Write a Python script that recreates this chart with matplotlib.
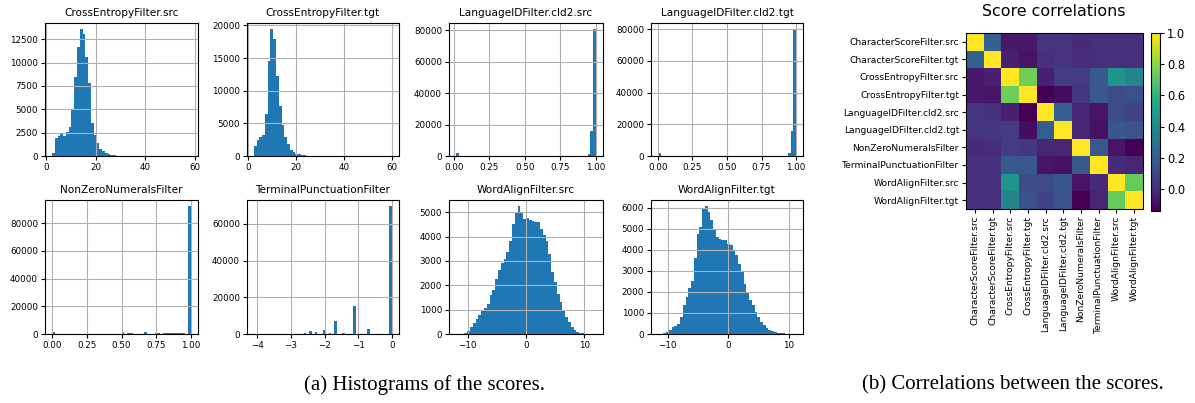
import numpy as np
import matplotlib
matplotlib.use("Agg")
import matplotlib.pyplot as plt

# ---- histogram data: (range low, range high, counts per bin) ----
ce_src_range = (2.3, 58.5)
ce_src_counts = [350, 1950, 2150, 2400, 2150, 2550, 3100, 5000, 8500, 11700,
                 13550, 13100, 10600, 7800, 3500, 2200, 1350, 800, 500, 300,
                 200, 130, 80, 50, 30, 20, 15, 10, 8, 6,
                 5, 4, 3, 2, 2, 1, 1, 1, 1, 1,
                 1, 0, 1, 0, 0, 1, 0, 0, 0, 1]

ce_tgt_range = (2.5, 60.0)
ce_tgt_counts = [1500, 2450, 2850, 3200, 6400, 14500, 19400, 17900, 12200, 7600,
                 4700, 2950, 1800, 950, 600, 300, 250, 150, 100, 60,
                 40, 25, 15, 10, 6, 4, 3, 2, 2, 1,
                 1, 1, 1, 0, 1, 0, 0, 1, 0, 0,
                 0, 1, 0, 0, 0, 0, 1, 0, 0, 1]

lid_src_range = (0.015, 1.0)
lid_src_counts = [1800] + [0] * 45 + [300, 1000, 16000, 80600]

lid_tgt_range = (0.0, 1.0)
lid_tgt_counts = [1800] + [0] * 45 + [200, 1700, 16000, 80000]

nzn_range = (0.0, 1.0)
nzn_counts = ([1400] + [0] * 24 + [1100, 0, 600, 600] + [0] * 4 + [1100]
              + [0] * 3 + [500, 500, 0] + [600] * 8 + [0, 92000])

tp_range = (-4.1, 0.0)
tp_counts = [0] * 50
for idx, val in [(0, 30), (18, 550), (20, 1450), (22, 1100), (25, 2400),
                 (27, 550), (29, 6900), (32, 550), (36, 15500), (41, 2500),
                 (49, 69600)]:
    tp_counts[idx] = val

wa_src_range = (-12.0, 12.0)
wa_src_counts = [2, 5, 10, 40, 110, 300, 440, 600, 780, 975,
                 1070, 1250, 1590, 1800, 2250, 2620, 2900, 3080, 3350, 3800,
                 4530, 4980, 5240, 5000, 4720, 4750, 4700, 4620, 4600, 4580,
                 4300, 4050, 3800, 3300, 2550, 2150, 1650, 1300, 950, 700,
                 500, 300, 180, 90, 45, 25, 15, 8, 4, 2]

wa_tgt_range = (-11.6, 11.2)
wa_tgt_counts = [5, 15, 40, 100, 200, 320, 400, 460, 800, 1390,
                 1760, 2180, 2500, 3610, 4765, 5080, 5980, 6060, 5790, 5400,
                 4920, 4600, 4500, 4480, 4450, 4290, 4210, 3970, 3740, 3340,
                 2940, 2390, 1990, 1600, 1360, 1045, 810, 570, 410, 285,
                 175, 125, 95, 70, 50, 35, 20, 12, 6, 3]

hist_titles = ["CrossEntropyFilter.src", "CrossEntropyFilter.tgt",
               "LanguageIDFilter.cld2.src", "LanguageIDFilter.cld2.tgt",
               "NonZeroNumeralsFilter", "TerminalPunctuationFilter",
               "WordAlignFilter.src", "WordAlignFilter.tgt"]
hist_ranges = [ce_src_range, ce_tgt_range, lid_src_range, lid_tgt_range,
               nzn_range, tp_range, wa_src_range, wa_tgt_range]
hist_counts = [ce_src_counts, ce_tgt_counts, lid_src_counts, lid_tgt_counts,
               nzn_counts, tp_counts, wa_src_counts, wa_tgt_counts]
hist_xticks = [[0, 20, 40, 60], [0, 20, 40, 60],
               [0.0, 0.25, 0.5, 0.75, 1.0], [0.0, 0.25, 0.5, 0.75, 1.0],
               [0.0, 0.25, 0.5, 0.75, 1.0], [-4, -3, -2, -1, 0],
               [-10, 0, 10], [-10, 0, 10]]
hist_yticks = [[0, 2500, 5000, 7500, 10000, 12500],
               [0, 5000, 10000, 15000, 20000],
               [0, 20000, 40000, 60000, 80000],
               [0, 20000, 40000, 60000, 80000],
               [0, 20000, 40000, 60000, 80000],
               [0, 20000, 40000, 60000],
               [0, 1000, 2000, 3000, 4000, 5000],
               [0, 1000, 2000, 3000, 4000, 5000, 6000]]

# ---- correlation matrix ----
score_names = ["CharacterScoreFilter.src", "CharacterScoreFilter.tgt",
               "CrossEntropyFilter.src", "CrossEntropyFilter.tgt",
               "LanguageIDFilter.cld2.src", "LanguageIDFilter.cld2.tgt",
               "NonZeroNumeralsFilter", "TerminalPunctuationFilter",
               "WordAlignFilter.src", "WordAlignFilter.tgt"]
corr = [
    [1.00, 0.21, -0.06, -0.06, 0.03, 0.03, 0.00, 0.02, 0.02, 0.02],
    [0.21, 1.00, -0.04, -0.08, 0.02, 0.04, 0.01, 0.02, 0.02, 0.02],
    [-0.06, -0.04, 1.00, 0.75, -0.04, 0.06, 0.06, 0.18, 0.45, 0.38],
    [-0.06, -0.08, 0.75, 1.00, -0.14, -0.10, 0.04, 0.18, 0.12, 0.14],
    [0.03, 0.02, -0.04, -0.14, 1.00, 0.20, -0.02, -0.08, 0.12, 0.09],
    [0.03, 0.04, 0.06, -0.10, 0.20, 1.00, -0.02, -0.09, 0.17, 0.15],
    [0.00, 0.01, 0.06, 0.04, -0.02, -0.02, 1.00, 0.18, -0.08, -0.14],
    [0.02, 0.02, 0.18, 0.18, -0.08, -0.09, 0.18, 1.00, 0.00, -0.02],
    [0.02, 0.02, 0.45, 0.12, 0.12, 0.17, -0.08, 0.00, 1.00, 0.73],
    [0.02, 0.02, 0.38, 0.14, 0.09, 0.15, -0.14, -0.02, 0.73, 1.00],
]

W, H = 1195, 403
fig = plt.figure(figsize=(W / 100, H / 100), dpi=100)


def px_axes(x0, y0, x1, y1):
    """Axes placed by pixel box (left, top, right, bottom)."""
    return fig.add_axes([x0 / W, 1 - y1 / H, (x1 - x0) / W, (y1 - y0) / H])


tick_fs = 6.3
title_fs = 7.6
col_px = [(45, 198), (247, 399), (449, 603), (651, 803)]
row_px = [(23, 156), (200, 334)]

for i in range(8):
    r, c = divmod(i, 4)
    ax = px_axes(col_px[c][0], row_px[r][0], col_px[c][1], row_px[r][1])
    lo, hi = hist_ranges[i]
    counts = np.asarray(hist_counts[i], dtype=float)
    edges = np.linspace(lo, hi, len(counts) + 1)
    centers = 0.5 * (edges[:-1] + edges[1:])
    ax.hist(centers, bins=edges, weights=counts, color="#1f77b4")
    ax.grid(True, color="#b0b0b0", linewidth=0.8)
    ax.set_xticks(hist_xticks[i])
    ax.set_yticks(hist_yticks[i])
    if hist_xticks[i][1] == 0.25:
        ax.set_xticklabels(["%.2f" % v for v in hist_xticks[i]])
    ax.tick_params(labelsize=tick_fs, length=3, width=0.8, pad=2)
    ax.set_title(hist_titles[i], fontsize=title_fs, pad=5)

# heatmap of correlations
hax = px_axes(966, 33, 1143, 209)
im = hax.imshow(np.array(corr), cmap="viridis", aspect="auto")
hax.set_xticks(range(len(score_names)))
hax.set_yticks(range(len(score_names)))
hax.set_xticklabels(score_names, rotation=90, fontsize=6.6)
hax.set_yticklabels(score_names, fontsize=6.6)
hax.tick_params(length=3, width=0.8, pad=2)
fig.text(1054 / W, 1 - 12 / H, "Score correlations", fontsize=11.4,
         ha="center", va="center")

cax = px_axes(1151, 33, 1160, 211)
cb = fig.colorbar(im, cax=cax, ticks=[0.0, 0.2, 0.4, 0.6, 0.8, 1.0])
cb.ax.tick_params(labelsize=8.3, length=3, width=0.8, pad=2)
cb.outline.set_linewidth(0.8)

serif = ["Liberation Serif", "DejaVu Serif"]
fig.text(425 / W, 1 - 385 / H, "(a) Histograms of the scores.",
         family=serif, fontsize=15, ha="center", va="center")
fig.text(1013 / W, 1 - 385 / H, "(b) Correlations between the scores.",
         family=serif, fontsize=15, ha="center", va="center")

fig.savefig("out.png", dpi=100)
